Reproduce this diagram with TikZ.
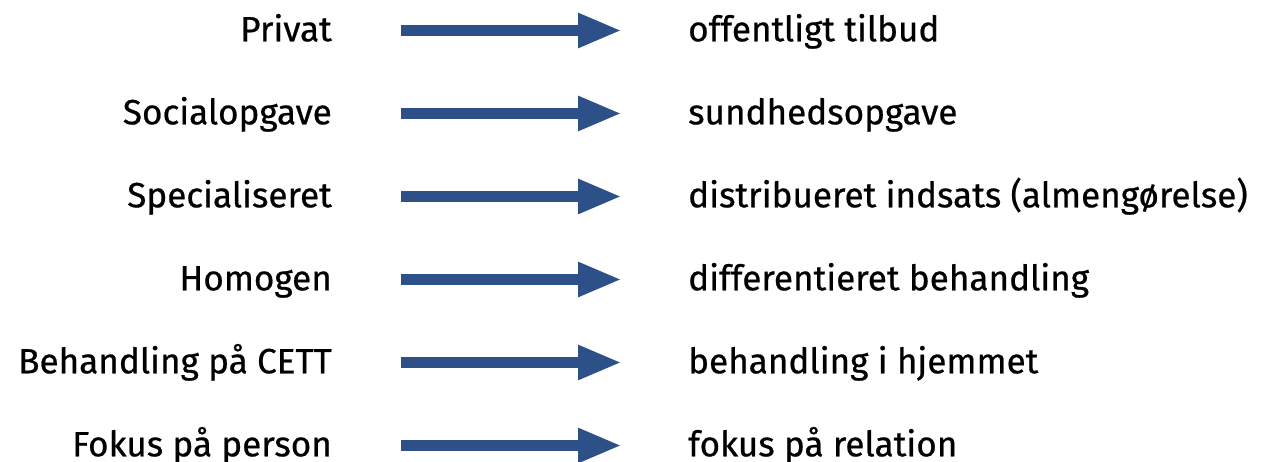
\documentclass[tikz,border=0pt]{standalone}
\usepackage{fontspec}
\newfontfamily\lblfont{Fira Sans}[UprightFeatures={FakeBold=0.6}]
\usetikzlibrary{arrows.meta}
\definecolor{arrowblue}{RGB}{46,80,136}
\tikzset{
  lbl/.style={inner sep=0pt, font=\lblfont\fontsize{35.1}{40}\selectfont, text=black},
  leftlbl/.style={lbl, anchor=base east},
  rightlbl/.style={lbl, anchor=base west},
  bigarrow/.style={draw=arrowblue, line width=11pt, -{Triangle[length=44pt,width=32pt]}, arrowblue}
}
\begin{document}
\begin{tikzpicture}[x=1pt,y=-1pt]
\useasboundingbox (0,0) rectangle (1261,462);
\foreach \i/\l/\r in {0/Privat/offentligt tilbud,
                      1/Socialopgave/sundhedsopgave,
                      2/Specialiseret/distribueret indsats (almengørelse),
                      3/Homogen/differentieret behandling,
                      4/Behandling på CETT/behandling i hjemmet,
                      5/Fokus på person/fokus på relation}{
  \pgfmathsetmacro{\yc}{30.5+83*\i}
  \node[leftlbl] (L\i) at (332,\yc+10.8) {\l};
  \node[rightlbl] (R\i) at (688,\yc+10.8) {\r};
  \coordinate (S\i) at (401,\yc);
  \coordinate (E\i) at (622,\yc);
  \draw[bigarrow] (S\i) -- (E\i);
}
\end{tikzpicture}
\end{document}
